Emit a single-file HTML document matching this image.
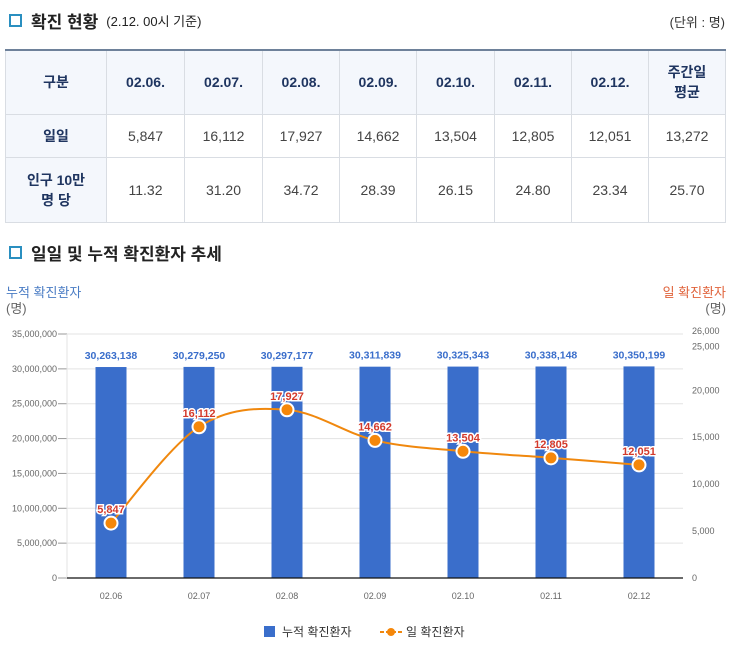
<!DOCTYPE html>
<html><head><meta charset="utf-8">
<style>
body{margin:0;width:731px;height:651px;background:#fff;font-family:"Liberation Sans","Noto Sans CJK KR",sans-serif;position:relative;overflow:hidden;color:#333}
.h{position:absolute;left:9px;font-size:17px;font-weight:bold;color:#222;display:flex;align-items:center}
.sq{width:9px;height:9px;border:2px solid #2a8fc0;background:#fff;margin-right:9px}
table{position:absolute;left:5px;top:49px;border-collapse:collapse;width:720px;table-layout:fixed;font-size:14px;text-align:center}
td,th{border:1px solid #d9dde3;padding:0}
tr:first-child th{border-top:2px solid #6e819a}
th{background:#f4f7fc;color:#1f3560;font-weight:bold}
td{color:#444}
.rh{background:#f4f7fc;color:#1f3560;font-weight:bold}
</style></head><body>
<div class="h" style="top:8px"><span class="sq"></span>확진 현황 <span style="font-size:13px;font-weight:normal;margin-left:8px">(2.12. 00시 기준)</span></div>
<div style="position:absolute;right:6px;top:12px;font-size:13px">(단위 : 명)</div>
<table>
<colgroup><col style="width:101px"><col style="width:78px"><col style="width:78px"><col style="width:77px"><col style="width:77px"><col style="width:78px"><col style="width:77px"><col style="width:77px"><col style="width:77px"></colgroup>
<tr style="height:64px"><th>구분</th><th>02.06.</th><th>02.07.</th><th>02.08.</th><th>02.09.</th><th>02.10.</th><th>02.11.</th><th>02.12.</th><th>주간일<br>평균</th></tr>
<tr style="height:43px"><td class="rh">일일</td><td>5,847</td><td>16,112</td><td>17,927</td><td>14,662</td><td>13,504</td><td>12,805</td><td>12,051</td><td>13,272</td></tr>
<tr style="height:65px"><td class="rh">인구 10만<br>명 당</td><td>11.32</td><td>31.20</td><td>34.72</td><td>28.39</td><td>26.15</td><td>24.80</td><td>23.34</td><td>25.70</td></tr>
</table>
<div class="h" style="top:240px"><span class="sq"></span>일일 및 누적 확진환자 추세</div>
<svg id="c" width="731" height="651" style="position:absolute;left:0;top:0"></svg>
<script>
const categories=["02.06","02.07","02.08","02.09","02.10","02.11","02.12"];
const cumulative=[30263138,30279250,30297177,30311839,30325343,30338148,30350199];
const daily=[5847,16112,17927,14662,13504,12805,12051];
const leftTicks=[0,5000000,10000000,15000000,20000000,25000000,30000000,35000000];
const rightTicks=[0,5000,10000,15000,20000,25000,26000];
const L=67,R=683,T=334,B=578,LMAX=35000000,RMAX=26000;
const yl=v=>B-v/LMAX*(B-T), yr=v=>B-v/RMAX*(B-T);
const bw=(R-L)/categories.length, xc=i=>L+bw*(i+0.5);
const svg=document.getElementById('c');const NS='http://www.w3.org/2000/svg';
function mk(t,a,txt){const e=document.createElementNS(NS,t);for(const k in a)e.setAttribute(k,a[k]);if(txt!=null)e.textContent=txt;svg.appendChild(e);return e;}
const fmt=v=>v.toLocaleString('en-US');
let e;
e=mk('text',{x:6,y:297,'font-size':13,fill:'#4a7cc4'},'누적 확진환자');
e=mk('text',{x:6,y:313,'font-size':13,fill:'#666'},'(명)');
e=mk('text',{x:726,y:297,'font-size':13,fill:'#e0623a','text-anchor':'end'},'일 확진환자');
e=mk('text',{x:726,y:313,'font-size':13,fill:'#666','text-anchor':'end'},'(명)');
leftTicks.forEach(v=>{const y=yl(v);
 if(v>0){e=mk('line',{x1:L,x2:R,y1:y,y2:y,stroke:'#e3e3e3'});}
 e=mk('text',{x:57,y:y+3,'font-size':9,fill:'#666','text-anchor':'end'},fmt(v));
 mk('line',{x1:58,x2:L,y1:y,y2:y,stroke:'#999'});});
mk('line',{x1:L,x2:L,y1:T,y2:B,stroke:'#e3e3e3'});
rightTicks.forEach((v,i)=>{const y=yr(v);
 e=mk('text',{x:692,y:y+(v==26000?0:v==25000?6:3),'font-size':9,fill:'#666'},fmt(v));});
categories.forEach((c,i)=>{
 e=mk('rect',{x:xc(i)-15.5,y:yl(cumulative[i]),width:31,height:B-yl(cumulative[i]),fill:'#3a6ecb'});
 e=mk('text',{x:xc(i),y:yl(cumulative[i])-8,'font-size':10.5,fill:'#3a6ecb','text-anchor':'middle','font-weight':'bold'},fmt(cumulative[i]));
 e=mk('text',{x:xc(i),y:599,'font-size':9,fill:'#666','text-anchor':'middle'},c);
});
e=mk('line',{x1:L,x2:R,y1:B,y2:B,stroke:'#111','stroke-width':1.2});
const pts=daily.map((v,i)=>[xc(i),yr(v)]);
let d='M'+pts[0][0]+','+pts[0][1];
for(let i=0;i<pts.length-1;i++){const p0=pts[Math.max(0,i-1)],p1=pts[i],p2=pts[i+1],p3=pts[Math.min(pts.length-1,i+2)];
 const c1=[p1[0]+(p2[0]-p0[0])/6,p1[1]+(p2[1]-p0[1])/6],c2=[p2[0]-(p3[0]-p1[0])/6,p2[1]-(p3[1]-p1[1])/6];
 d+=`C${c1[0]},${c1[1]} ${c2[0]},${c2[1]} ${p2[0]},${p2[1]}`;}
e=mk('path',{d:d,fill:'none',stroke:'#f0880e','stroke-width':2});
pts.forEach((p,i)=>{
 e=mk('circle',{cx:p[0],cy:p[1],r:6.5,fill:'#f5870a',stroke:'#fff','stroke-width':2});
 e=mk('text',{x:p[0],y:p[1]-10,'font-size':11,fill:'#d33a2c','text-anchor':'middle','font-weight':'bold',stroke:'#fff','stroke-width':3,'paint-order':'stroke'},fmt(daily[i]));
});
e=mk('rect',{x:264,y:626,width:11,height:11,fill:'#3a6ecb'});
e=mk('text',{x:282,y:636,'font-size':12,fill:'#333'},'누적 확진환자');
e=mk('line',{x1:380,x2:402,y1:632,y2:632,stroke:'#f0880e','stroke-width':2,'stroke-dasharray':'4,2'});
mk('circle',{cx:391,cy:632,r:4,fill:'#f5870a'});
e=mk('text',{x:406,y:636,'font-size':12,fill:'#333'},'일 확진환자');
</script>
</body></html>
